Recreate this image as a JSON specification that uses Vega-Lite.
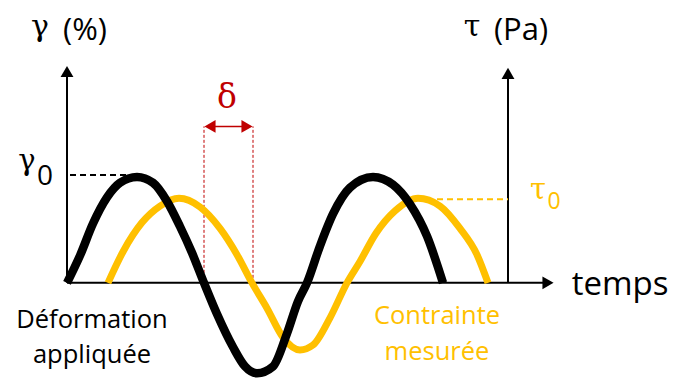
{
  "$schema": "https://vega.github.io/schema/vega-lite/v6.json",
  "width": 673,
  "height": 391,
  "autosize": {"type": "fit", "contains": "padding"},
  "padding": 0,
  "background": "white",
  "config": {"view": {"stroke": null}, "text": {"font": "Open Sans"}},
  "datasets": {
    "axes": [
      {"t": 0, "v": 0, "t2": 0, "v2": 1.99},
      {"t": 0, "v": 0, "t2": 480, "v2": 0},
      {"t": 441, "v": 0, "t2": 441, "v2": 1.97}
    ],
    "heads": [
      {"t": 0, "v": 1.995, "dir": "up", "series": "axe"},
      {"t": 481, "v": 0, "dir": "right", "series": "axe"},
      {"t": 441, "v": 1.977, "dir": "up", "series": "axe"},
      {"t": 143, "v": 1.477, "dir": "left", "series": "dephasage"},
      {"t": 180, "v": 1.477, "dir": "right", "series": "dephasage"}
    ],
    "delta_guides": [
      {"t": 137, "v": 0, "t2": 137, "v2": 1.477},
      {"t": 186, "v": 0, "t2": 186, "v2": 1.477}
    ],
    "delta_arrow": [
      {"t": 141, "v": 1.477, "t2": 182, "v2": 1.477}
    ],
    "amplitudes": [
      {"t": 3, "v": 1.018, "t2": 60, "v2": 1.018, "series": "deformation"},
      {"t": 370, "v": 0.789, "t2": 441, "v2": 0.789, "series": "contrainte"}
    ],
    "deformation": [
      {"t": 0, "v": 0},
      {"t": 13, "v": 0.257},
      {"t": 26, "v": 0.56},
      {"t": 40, "v": 0.807},
      {"t": 53, "v": 0.945},
      {"t": 70, "v": 1.0},
      {"t": 86, "v": 0.945},
      {"t": 100, "v": 0.771},
      {"t": 113, "v": 0.532},
      {"t": 125, "v": 0.284},
      {"t": 137, "v": 0},
      {"t": 150, "v": -0.294},
      {"t": 166, "v": -0.606},
      {"t": 178, "v": -0.789},
      {"t": 190, "v": -0.853},
      {"t": 206, "v": -0.789},
      {"t": 220, "v": -0.477},
      {"t": 231, "v": -0.174},
      {"t": 240, "v": 0},
      {"t": 253, "v": 0.349},
      {"t": 266, "v": 0.651},
      {"t": 283, "v": 0.899},
      {"t": 306, "v": 1.0},
      {"t": 326, "v": 0.927},
      {"t": 343, "v": 0.743},
      {"t": 360, "v": 0.44},
      {"t": 376, "v": 0}
    ],
    "contrainte": [
      {"t": 41, "v": 0},
      {"t": 56, "v": 0.294},
      {"t": 75, "v": 0.569},
      {"t": 93, "v": 0.725},
      {"t": 112, "v": 0.798},
      {"t": 133, "v": 0.716},
      {"t": 153, "v": 0.514},
      {"t": 170, "v": 0.266},
      {"t": 185, "v": 0},
      {"t": 200, "v": -0.239},
      {"t": 216, "v": -0.514},
      {"t": 233, "v": -0.633},
      {"t": 246, "v": -0.587},
      {"t": 263, "v": -0.33},
      {"t": 280, "v": 0},
      {"t": 293, "v": 0.202},
      {"t": 309, "v": 0.468},
      {"t": 328, "v": 0.679},
      {"t": 351, "v": 0.798},
      {"t": 373, "v": 0.725},
      {"t": 393, "v": 0.514},
      {"t": 410, "v": 0.266},
      {"t": 421, "v": 0}
    ],
    "labels": [
      {"text": "(%)", "t": 18, "v": 2.294, "kind": "title", "series": "axe"},
      {"text": "(Pa)", "t": 454, "v": 2.294, "kind": "title", "series": "axe"},
      {"text": "γ", "t": -27, "v": 2.33, "kind": "gtitle", "series": "axe"},
      {"text": "τ", "t": 405, "v": 2.33, "kind": "gtitle", "series": "axe"},
      {"text": "δ", "t": 160, "v": 1.651, "kind": "gdelta", "series": "dephasage"},
      {"text": "temps", "t": 553, "v": -0.11, "kind": "temps", "series": "axe"},
      {"text": "Déformation", "t": 25, "v": -0.422, "kind": "legend", "series": "deformation"},
      {"text": "appliquée", "t": 25, "v": -0.752, "kind": "legend", "series": "deformation"},
      {"text": "Contrainte", "t": 370, "v": -0.385, "kind": "legend", "series": "contrainte"},
      {"text": "mesurée", "t": 370, "v": -0.725, "kind": "legend", "series": "contrainte"},
      {"text": "γ", "t": -40, "v": 1.064, "kind": "gamp", "series": "deformation"},
      {"text": "0", "t": -22, "v": 0.927, "kind": "sub", "series": "deformation"},
      {"text": "τ", "t": 471, "v": 0.789, "kind": "gamp", "series": "contrainte"},
      {"text": "0", "t": 487, "v": 0.697, "kind": "subY", "series": "contrainte"}
    ]
  },
  "encoding": {
    "x": {"field": "t", "type": "quantitative", "scale": {"domain": [-67, 606], "nice": false, "zero": false}, "axis": null},
    "y": {"field": "v", "type": "quantitative", "scale": {"domain": [-0.917, 2.67], "nice": false, "zero": false}, "axis": null}
  },
  "layer": [
    {
      "data": {"name": "delta_guides"},
      "mark": {"type": "rule", "color": "#C00000", "strokeWidth": 1, "strokeDash": [3, 2]},
      "encoding": {"x2": {"field": "t2"}, "y2": {"field": "v2"}}
    },
    {
      "data": {"name": "axes"},
      "mark": {"type": "rule", "color": "#000000", "strokeWidth": 2},
      "encoding": {"x2": {"field": "t2"}, "y2": {"field": "v2"}}
    },
    {
      "data": {"name": "delta_arrow"},
      "mark": {"type": "rule", "color": "#C00000", "strokeWidth": 1.5},
      "encoding": {"x2": {"field": "t2"}, "y2": {"field": "v2"}}
    },
    {
      "data": {"name": "amplitudes"},
      "mark": {"type": "rule", "strokeWidth": 1.8, "strokeDash": [6, 4]},
      "encoding": {
        "x2": {"field": "t2"}, "y2": {"field": "v2"},
        "color": {"field": "series", "type": "nominal", "scale": {"domain": ["axe", "deformation", "contrainte", "dephasage"], "range": ["#000000", "#000000", "#FFC000", "#C00000"]}, "legend": null}
      }
    },
    {
      "data": {"name": "heads"},
      "mark": {"type": "point", "filled": true, "opacity": 1, "size": 165},
      "encoding": {
        "shape": {"field": "dir", "type": "nominal", "scale": {"domain": ["up", "right", "left"], "range": ["triangle-up", "triangle-right", "triangle-left"]}, "legend": null},
        "color": {"field": "series", "type": "nominal", "legend": null}
      }
    },
    {
      "data": {"name": "contrainte"},
      "mark": {"type": "line", "color": "#FFC000", "strokeWidth": 7, "interpolate": "monotone", "strokeCap": "butt"},
      "encoding": {}
    },
    {
      "data": {"name": "deformation"},
      "mark": {"type": "line", "color": "#000000", "strokeWidth": 8.5, "interpolate": "monotone", "strokeCap": "butt"},
      "encoding": {}
    },
    {
      "data": {"name": "labels"},
      "transform": [{"filter": "datum.kind === 'title'"}],
      "mark": {"type": "text", "fontSize": 31, "baseline": "alphabetic", "align": "center"},
      "encoding": {"text": {"field": "text"}, "color": {"field": "series", "type": "nominal", "legend": null}}
    },
    {
      "data": {"name": "labels"},
      "transform": [{"filter": "datum.kind === 'gtitle'"}],
      "mark": {"type": "text", "font": "DejaVu Serif", "fontSize": 30, "baseline": "alphabetic", "align": "center"},
      "encoding": {"text": {"field": "text"}, "color": {"field": "series", "type": "nominal", "legend": null}}
    },
    {
      "data": {"name": "labels"},
      "transform": [{"filter": "datum.kind === 'gdelta'"}],
      "mark": {"type": "text", "font": "DejaVu Serif", "fontSize": 33, "baseline": "alphabetic", "align": "center"},
      "encoding": {"text": {"field": "text"}, "color": {"field": "series", "type": "nominal", "legend": null}}
    },
    {
      "data": {"name": "labels"},
      "transform": [{"filter": "datum.kind === 'temps'"}],
      "mark": {"type": "text", "fontSize": 33, "baseline": "alphabetic", "align": "center"},
      "encoding": {"text": {"field": "text"}, "color": {"field": "series", "type": "nominal", "legend": null}}
    },
    {
      "data": {"name": "labels"},
      "transform": [{"filter": "datum.kind === 'legend'"}],
      "mark": {"type": "text", "fontSize": 25.5, "baseline": "alphabetic", "align": "center"},
      "encoding": {"text": {"field": "text"}, "color": {"field": "series", "type": "nominal", "legend": null}}
    },
    {
      "data": {"name": "labels"},
      "transform": [{"filter": "datum.kind === 'gamp'"}],
      "mark": {"type": "text", "font": "DejaVu Serif", "fontSize": 29, "baseline": "alphabetic", "align": "center"},
      "encoding": {"text": {"field": "text"}, "color": {"field": "series", "type": "nominal", "legend": null}}
    },
    {
      "data": {"name": "labels"},
      "transform": [{"filter": "datum.kind === 'sub'"}],
      "mark": {"type": "text", "fontSize": 28, "baseline": "alphabetic", "align": "center"},
      "encoding": {"text": {"field": "text"}, "color": {"field": "series", "type": "nominal", "legend": null}}
    },
    {
      "data": {"name": "labels"},
      "transform": [{"filter": "datum.kind === 'subY'"}],
      "mark": {"type": "text", "fontSize": 23, "baseline": "alphabetic", "align": "center"},
      "encoding": {"text": {"field": "text"}, "color": {"field": "series", "type": "nominal", "legend": null}}
    }
  ]
}
